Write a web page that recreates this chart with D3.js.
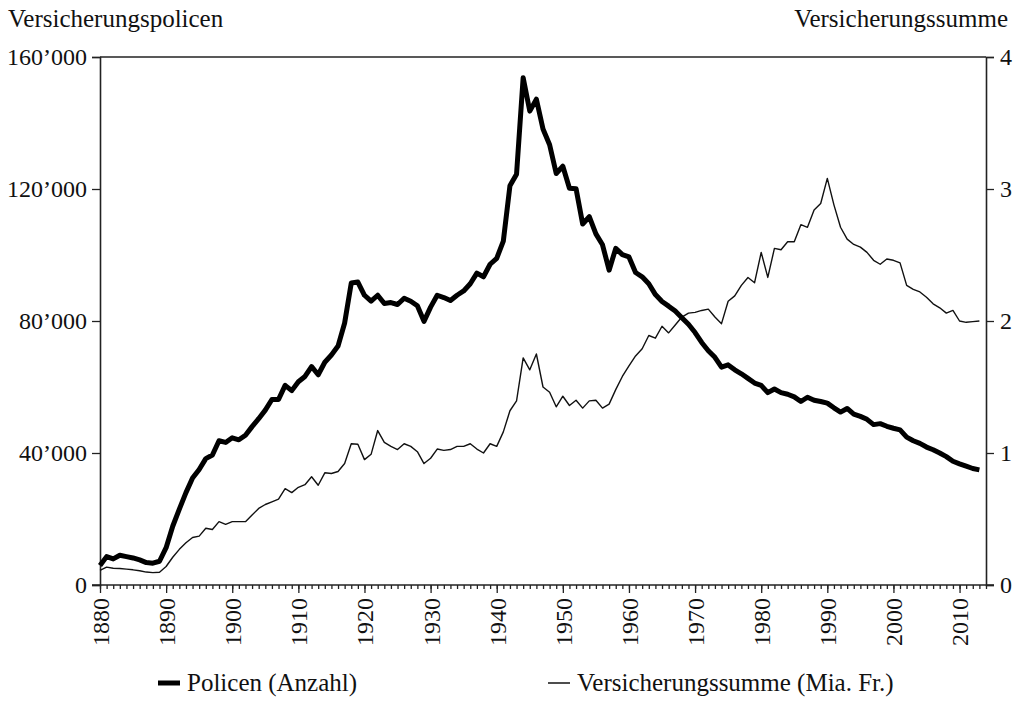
<!DOCTYPE html>
<html>
<head>
<meta charset="utf-8">
<script src="https://cdn.jsdelivr.net/npm/d3@7"></script>
<style>
  body { margin: 0; background: #fff; }
  svg text { font-family: "Liberation Serif", "DejaVu Serif", serif; fill: #111; }
</style>
</head>
<body>
<script>
const width = 1013;
const height = 708;
const serif = "'Liberation Serif', 'DejaVu Serif', serif";

// jahr 1880 .. 2013
const startYear = 1880;

// Policen (Anzahl), in tausend
const policen = [
  5.9, 8.6, 7.9, 9.0, 8.6, 8.2, 7.6, 6.8, 6.6, 7.2,
  11.3, 17.8, 23, 28, 32.4, 35, 38.3, 39.4, 43.7, 43.2,
  44.6, 44.0, 45.4, 48, 50.4, 53, 56.2, 56.2, 60.5, 58.9,
  61.6, 63.2, 66.2, 63.7, 67.5, 69.7, 72.4, 79.4, 91.5, 91.8,
  87.8, 86, 87.8, 85.3, 85.6, 85, 86.9, 86, 84.6, 79.9,
  84.2, 87.8, 87.1, 86.2, 87.8, 89.1, 91.3, 94.5, 93.4, 97.2,
  99, 104.2, 121, 124.5, 153.7, 143.6, 147.2, 138.2, 133.4, 124.7,
  126.9, 120.2, 120.1, 109.4, 111.6, 106.4, 103.1, 95.4, 102, 100.1,
  99.4, 94.7, 93.4, 91.3, 88, 85.9, 84.5, 83, 81, 79,
  76.5, 73.5, 71, 69, 66, 66.7, 65.2, 64, 62.6, 61.2,
  60.5, 58.3, 59.4, 58.3, 57.8, 57, 55.6, 56.9, 56, 55.6,
  55.1, 53.7, 52.4, 53.5, 51.8, 51.1, 50.2, 48.6, 48.9, 48.1,
  47.5, 47, 44.8, 43.7, 42.9, 41.8, 41, 40, 38.9, 37.5,
  36.7, 36, 35.3, 34.9
];

// Versicherungssumme (Mia. Fr.)
const summe = [
  0.11, 0.135, 0.127, 0.125, 0.12, 0.115, 0.108, 0.098, 0.094, 0.097,
  0.14, 0.21, 0.27, 0.32, 0.36, 0.37, 0.43, 0.42, 0.48, 0.46,
  0.48, 0.48, 0.48, 0.53, 0.58, 0.61, 0.63, 0.65, 0.73, 0.70,
  0.74, 0.76, 0.82, 0.756, 0.85, 0.845, 0.86, 0.92, 1.07, 1.066,
  0.95, 0.99, 1.17, 1.08, 1.05, 1.026, 1.07, 1.05, 1.01, 0.92,
  0.96, 1.03, 1.02, 1.026, 1.05, 1.05, 1.07, 1.03, 1.0, 1.07,
  1.05, 1.16, 1.32, 1.395, 1.72, 1.63, 1.75, 1.50, 1.46, 1.35,
  1.43, 1.36, 1.40, 1.34, 1.395, 1.40, 1.34, 1.37, 1.48, 1.58,
  1.66, 1.735, 1.79, 1.89, 1.87, 1.96, 1.91, 1.97, 2.03, 2.06,
  2.065, 2.08, 2.09, 2.03, 1.98, 2.15, 2.19, 2.27, 2.33, 2.29,
  2.52, 2.33, 2.55, 2.54, 2.60, 2.60, 2.73, 2.71, 2.84, 2.89,
  3.08, 2.88, 2.71, 2.62, 2.58, 2.56, 2.52, 2.46, 2.43, 2.47,
  2.46, 2.44, 2.27, 2.24, 2.22, 2.18, 2.13, 2.10, 2.06, 2.08,
  2.00, 1.99, 1.995, 2.0
];

const leftTicks = [0, 40000, 80000, 120000, 160000];
const rightTicks = [0, 1, 2, 3, 4];
const yearTicks = [1880, 1890, 1900, 1910, 1920, 1930, 1940, 1950, 1960, 1970, 1980, 1990, 2000, 2010];
const legendLabels = ["Policen (Anzahl)", "Versicherungssumme (Mia. Fr.)"];

const margin = { top: 57, right: 27, bottom: 123, left: 100 };
const x0 = margin.left, x1 = width - margin.right;
const y0 = height - margin.bottom, y1 = margin.top;

const svg = d3.select("body").append("svg")
  .attr("width", width).attr("height", height);

const x = d3.scaleLinear().domain([1880, 2014]).range([x0, x1]);
const yL = d3.scaleLinear().domain([0, 160000]).range([y0, y1]);
const yR = d3.scaleLinear().domain([0, 4]).range([y0, y1]);

const fmt = (d) => d3.format(",")(d).replace(/,/g, "\u2019");

// top frame
svg.append("line")
  .attr("x1", x0).attr("x2", x1).attr("y1", y1).attr("y2", y1)
  .attr("stroke", "#222").attr("stroke-width", 1.6);

// left axis
const gL = svg.append("g").attr("transform", `translate(${x0},0)`)
  .call(d3.axisLeft(yL).tickValues(leftTicks).tickFormat(fmt).tickSize(8).tickPadding(5));
// right axis
const gR = svg.append("g").attr("transform", `translate(${x1},0)`)
  .call(d3.axisRight(yR).tickValues(rightTicks).tickFormat(d3.format("d")).tickSize(8).tickPadding(6));
// x axis, kleine ticks jedes jahr
const gXm = svg.append("g").attr("transform", `translate(0,${y0})`)
  .call(d3.axisBottom(x).tickValues(d3.range(1880, 2015)).tickFormat("").tickSize(4).tickSizeOuter(0));
const gX = svg.append("g").attr("transform", `translate(0,${y0})`)
  .call(d3.axisBottom(x).tickValues(yearTicks).tickFormat(d3.format("d")).tickSize(8).tickSizeOuter(0));

gX.selectAll("text")
  .attr("transform", "rotate(-90)")
  .attr("text-anchor", "end")
  .attr("x", -13).attr("y", 0).attr("dy", "0.35em");

[gL, gR, gX, gXm].forEach((g) => {
  g.attr("font-family", serif);
  g.selectAll("path.domain").attr("stroke", "#222").attr("stroke-width", 1.6);
  g.selectAll(".tick line").attr("stroke", "#222").attr("stroke-width", 1.3);
  g.selectAll("text").style("font-family", serif).style("font-size", "24px").attr("fill", "#111");
});
// x domain line extends past both axes
gX.select("path.domain").attr("d", `M${x0 - 8},0H${x1 + 8}`);
gXm.select("path.domain").remove();

const years = policen.map((_, i) => startYear + i);

const lineP = d3.line().x((d, i) => x(years[i])).y((d) => yL(d * 1000));
const lineS = d3.line().x((d, i) => x(years[i])).y((d) => yR(d));

svg.append("path").datum(summe)
  .attr("d", lineS).attr("fill", "none")
  .attr("stroke", "#111").attr("stroke-width", 1.4).attr("stroke-linejoin", "round");

svg.append("path").datum(policen)
  .attr("d", lineP).attr("fill", "none")
  .attr("stroke", "#000").attr("stroke-width", 5).attr("stroke-linejoin", "round");

// achsentitel
svg.append("text").attr("x", 8).attr("y", 27)
  .style("font-family", serif).style("font-size", "25px").text("Versicherungspolicen");
svg.append("text").attr("x", 1008).attr("y", 27).attr("text-anchor", "end")
  .style("font-family", serif).style("font-size", "25px").text("Versicherungssumme");

// legende
const legend = svg.append("g");
const items = [
  { label: legendLabels[0], lx: 158, w: 5 },
  { label: legendLabels[1], lx: 548, w: 1.4 }
];
items.forEach((it) => {
  legend.append("line")
    .attr("x1", it.lx).attr("x2", it.lx + 22)
    .attr("y1", 683).attr("y2", 683)
    .attr("stroke", "#000").attr("stroke-width", it.w);
  legend.append("text")
    .attr("x", it.lx + 29).attr("y", 691)
    .style("font-family", serif).style("font-size", "25px").text(it.label);
});
</script>
</body>
</html>
